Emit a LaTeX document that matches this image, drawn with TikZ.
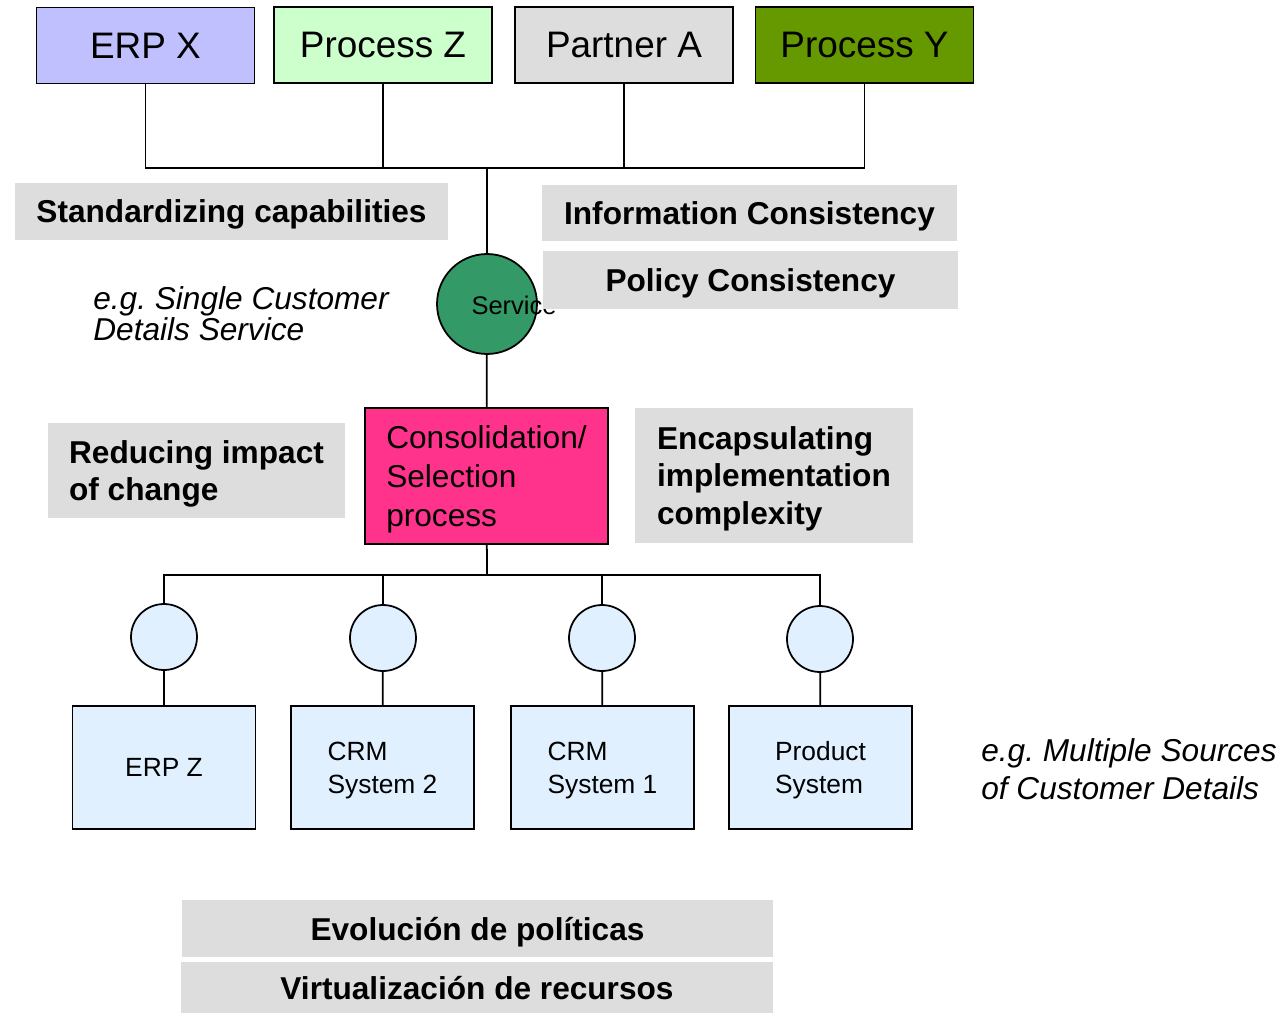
\documentclass[tikz,border=0pt]{standalone}
\usepackage{fontspec}
\setmainfont{Liberation Sans}
\usepackage{xcolor}
\frenchspacing

\definecolor{erpblue}{RGB}{192,192,255}
\definecolor{procgreen}{RGB}{204,255,204}
\definecolor{labelgray}{RGB}{221,221,221}
\definecolor{procolive}{RGB}{102,153,0}
\definecolor{svcgreen}{RGB}{51,153,102}
\definecolor{consolpink}{RGB}{255,51,140}
\definecolor{syslight}{RGB}{224,240,255}

\begin{document}
\begin{tikzpicture}[x=0.02cm,y=-0.02cm,
    topbox/.style={draw,line width=1pt,minimum width=4.36cm,minimum height=1.52cm,inner sep=0pt,text depth=0pt,font=\fontsize{21}{25}\selectfont},
    note/.style={fill=labelgray,inner sep=0pt,text depth=0pt,font=\fontsize{18}{21.5}\selectfont\bfseries,align=left},
    sysbox/.style={draw,line width=1pt,fill=syslight,minimum width=3.66cm,minimum height=2.46cm,inner sep=0pt,text depth=0pt,font=\fontsize{15}{18.7}\selectfont,align=left},
    iface/.style={draw,line width=1pt,circle,fill=syslight,minimum size=1.32cm,inner sep=0pt},
    eg/.style={anchor=west,inner sep=0pt,font=\fontsize{18}{21.5}\selectfont\itshape,align=left},
    wire/.style={line width=1pt}]
    \useasboundingbox (0,0) rectangle (1286,1014);

    % consumers
    \node[topbox,fill=erpblue] (erpx) at (145.5,45.5) {ERP X};
    \node[topbox,fill=procgreen] (procz) at (383,45) {Process Z};
    \node[topbox,fill=labelgray] (partnera) at (624,45) {Partner A};
    \node[topbox,fill=procolive] (procy) at (864.5,45) {Process Y};

    \coordinate (topbus) at (487,168);
    \draw[wire] (erpx.south) |- (topbus);
    \draw[wire] (procz.south) |- (topbus);
    \draw[wire] (partnera.south) |- (topbus);
    \draw[wire] (procy.south) |- (topbus);

    \node[note,minimum width=8.66cm,minimum height=1.14cm] (standard) at (231.5,211.5) {Standardizing capabilities};
    \node[note,minimum width=8.3cm,minimum height=1.12cm] (infocons) at (749.5,213) {Information Consistency};

    % service
    \node[draw,line width=1pt,circle,fill=svcgreen,minimum size=2cm,inner sep=0pt] (svc) at (487,304) {};
    \node[inner sep=0pt,font=\fontsize{14.5}{17}\selectfont] (svctext) at (514,305) {Service};
    \draw[wire] (topbus) -- (svc);

    \node[note,minimum width=8.3cm,minimum height=1.16cm] (policy) at (750.5,280) {Policy Consistency};

    \node[eg,font=\fontsize{18}{17.6}\selectfont\itshape] (egsingle) at (93,313.5) {e.g. Single Customer\\Details Service};

    % consolidation
    \node[draw,line width=1pt,fill=consolpink,minimum width=4.86cm,minimum height=2.72cm,inner sep=0pt,text depth=0pt,align=left,font=\fontsize{18}{22}\selectfont] (consol) at (486.5,476) {Consolidation/\\Selection\\process};
    \draw[wire] (svc) -- (consol);

    \node[note,minimum width=5.94cm,minimum height=1.9cm] (reduce) at (196.5,470.5) {Reducing impact\\of change};
    \node[note,minimum width=5.56cm,minimum height=2.7cm] (encap) at (774,475.5) {Encapsulating\\implementation\\complexity};

    % providers
    \coordinate (lowbus) at (487,575);
    \draw[wire] (consol) -- (lowbus);

    \node[iface] (if1) at (164,637) {};
    \node[iface] (if2) at (383,638) {};
    \node[iface] (if3) at (602,638) {};
    \node[iface] (if4) at (820,639) {};

    \draw[wire] (lowbus) -| (if1.north);
    \draw[wire] (lowbus) -| (if2.north);
    \draw[wire] (lowbus) -| (if3.north);
    \draw[wire] (lowbus) -| (if4.north);

    \node[sysbox] (erpz) at (164,767.5) {ERP Z};
    \node[sysbox] (crm2) at (382.5,767.5) {CRM\\System 2};
    \node[sysbox] (crm1) at (602.5,767.5) {CRM\\System 1};
    \node[sysbox] (prodsys) at (820.5,767.5) {Product\\System};

    \draw[wire] (if1) -- (erpz);
    \draw[wire] (if2) -- (crm2);
    \draw[wire] (if3) -- (crm1);
    \draw[wire] (if4) -- (prodsys);

    \node[eg] (egmulti) at (981,769) {e.g. Multiple Sources\\of Customer Details};

    \node[note,minimum width=11.82cm,minimum height=1.14cm] (evol) at (477.5,928.5) {Evolución de políticas};
    \node[note,minimum width=11.84cm,minimum height=1.02cm] (virt) at (477,987.5) {Virtualización de recursos};

\end{tikzpicture}
\end{document}
